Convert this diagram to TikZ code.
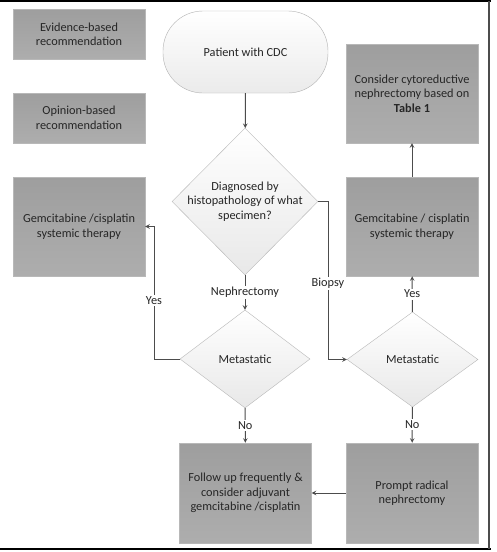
\documentclass[tikz,border=0pt]{standalone}
\usepackage{fontspec}
\setmainfont{Carlito}
\usetikzlibrary{shapes.geometric, arrows, positioning}

\begin{document}
\begin{tikzpicture}[x=1pt, y=-1pt]
	% Styles
	\tikzstyle{recbox} = [draw=black!28, top color=black!38, bottom color=black!32, rectangle, minimum width=132pt, align=center, text=black!85, font=\fontsize{12.3}{14.5}\selectfont, inner sep=0pt]
	\tikzstyle{terminal} = [draw=black!30, top color=white, bottom color=black!8, rectangle, rounded corners=40pt, minimum width=165pt, minimum height=82pt, align=center, text=black!85, font=\fontsize{12.3}{14.5}\selectfont]
	\tikzstyle{decision} = [draw=black!28, top color=white, bottom color=black!9, diamond, aspect=1, inner sep=-4pt, align=center, text=black!85, font=\fontsize{12.3}{14.5}\selectfont]
	\tikzstyle{arrow} = [draw=black!70, line width=1pt, ->, >=stealth]
	\tikzstyle{choice} = [fill=white, inner sep=1.5pt, text=black!85, font=\fontsize{12.3}{14.5}\selectfont]

	% Page and frame
	\useasboundingbox (0,0) rectangle (496,552);
	\fill [white] (0,0) rectangle (496,552);
	\draw [line width=2pt] (0,1) -- (491,1);
	\draw [line width=2pt] (0,549) -- (491,549);
	\draw [line width=2.5pt, black!70] (489,1) -- (489,549);

	% Nodes with absolute coordinates
	\node (evid) [recbox, minimum height=50pt] at (79,34.5) {Evidence-based\\recommendation};
	\node (opin) [recbox, minimum height=50pt] at (79,118) {Opinion-based\\recommendation};
	\node (patient) [terminal] at (245.5,52) {Patient with CDC};
	\node (diag) [decision, minimum width=146pt, minimum height=147pt] at (245,201.5) {Diagnosed by\\histopathology of what\\specimen?};
	\node (metaL) [decision, minimum width=130pt, minimum height=98pt] at (245,359) {Metastatic};
	\node (metaR) [decision, minimum width=131pt, minimum height=95pt] at (412.5,359.5) {Metastatic};
	\node (gemL) [recbox, minimum height=99pt] at (79,226.5) {Gemcitabine /cisplatin\\systemic therapy};
	\node (gemR) [recbox, minimum height=99pt] at (412,226.5) {Gemcitabine / cisplatin\\systemic therapy};
	\node (cyto) [recbox, minimum height=99pt] at (412,93.5) {Consider cytoreductive\\nephrectomy based on\\\textbf{Table 1}};
	\node (follow) [recbox, minimum height=100pt] at (245.5,493) {Follow up frequently \&\\consider adjuvant\\gemcitabine /cisplatin};
	\node (prompt) [recbox, minimum height=100pt] at (412,493) {Prompt radical\\nephrectomy};
	\coordinate (yesbend) at (154,359);
	\coordinate (biobend) at (328,201.5);

	% Connections
	\draw [arrow] (patient) -- (diag);
	\draw [arrow] (diag) -- node [choice, midway] {Nephrectomy} (metaL);
	\draw [arrow] (diag.east) -- (biobend) |- node [choice, pos=0.26] {Biopsy} (metaR.west);
	\draw [arrow] (metaL.west) -- (yesbend) |- node [choice, pos=0.22] {Yes} (gemL.east);
	\draw [arrow] (metaL) -- node [choice, midway] {No} (follow);
	\draw [arrow] (metaR) -- node [choice, midway] {Yes} (gemR);
	\draw [arrow] (gemR) -- (cyto);
	\draw [arrow] (metaR) -- node [choice, midway] {No} (prompt);
	\draw [arrow] (prompt) -- (follow);

\end{tikzpicture}
\end{document}
